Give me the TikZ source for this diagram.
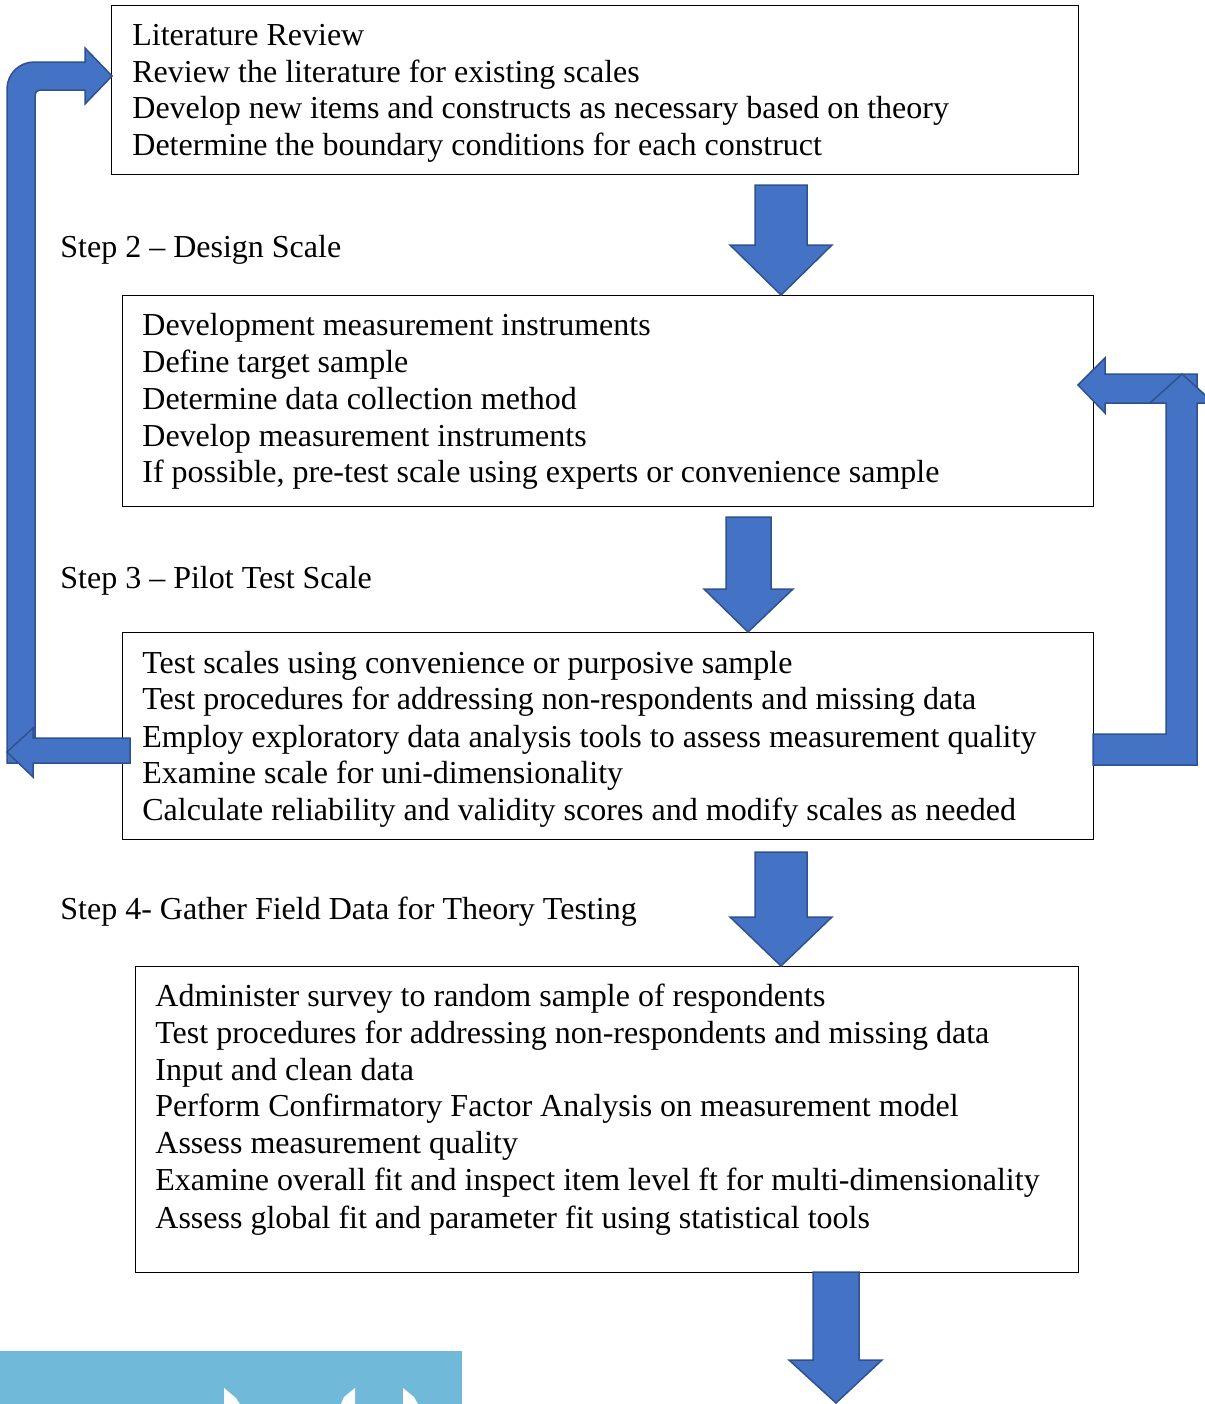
\documentclass[tikz,border=0pt]{standalone}
\usepackage{fontspec}
\setmainfont{Liberation Serif}
\definecolor{arrowblue}{HTML}{4472C4}
\definecolor{arrowedge}{HTML}{2F528F}
\definecolor{bannercyan}{HTML}{70B9D9}
\begin{document}
\begin{tikzpicture}[x=0.5pt,y=-0.5pt,
  box/.style={draw=black, line width=0.65pt, inner sep=0pt, anchor=north west},
  txt/.style={anchor=base west, inner sep=0pt, font=\fontsize{16}{18.4}\selectfont},
  blockarrow/.style={fill=arrowblue, draw=arrowedge, line width=0.75pt, line join=miter}]
\useasboundingbox (0,0) rectangle (1205,1404);

% stage boxes
\node[box, minimum width=483.5pt, minimum height=84.5pt] (b1) at (111,5) {};
\node[box, minimum width=485.5pt, minimum height=105.5pt] (b2) at (122,295) {};
\node[box, minimum width=485.5pt, minimum height=103.5pt] (b3) at (122,632) {};
\node[box, minimum width=471.5pt, minimum height=153pt] (b4) at (135,966) {};

% box texts
\foreach \y/\t [count=\i] in {45/Literature Review,
    82/Review the literature for existing scales,
    118/Develop new items and constructs as necessary based on theory,
    155/Determine the boundary conditions for each construct}
  \node[txt] (t1-\i) at (132,\y) {\t};

\foreach \y/\t [count=\i] in {335/Development measurement instruments,
    372/Define target sample,
    409/Determine data collection method,
    446/Develop measurement instruments,
    482/{If possible, pre-test scale using experts or convenience sample}}
  \node[txt] (t2-\i) at (142,\y) {\t};

\foreach \y/\t [count=\i] in {673/Test scales using convenience or purposive sample,
    709/Test procedures for addressing non-respondents and missing data,
    747/Employ exploratory data analysis tools to assess measurement quality,
    783/Examine scale for uni-dimensionality,
    820/Calculate reliability and validity scores and modify scales as needed}
  \node[txt] (t3-\i) at (142,\y) {\t};

\foreach \y/\t [count=\i] in {1006/Administer survey to random sample of respondents,
    1043/Test procedures for addressing non-respondents and missing data,
    1080/Input and clean data,
    1116/Perform Confirmatory Factor Analysis on measurement model,
    1153/Assess measurement quality,
    1190/Examine overall fit and inspect item level ft for multi-dimensionality,
    1228/Assess global fit and parameter fit using statistical tools}
  \node[txt] (t4-\i) at (155,\y) {\t};

% step labels
\node[txt] (s2) at (60,257) {Step 2 – Design Scale};
\node[txt] (s3) at (60,588) {Step 3 – Pilot Test Scale};
\node[txt] (s4) at (60,919) {Step 4- Gather Field Data for Theory Testing};

% downward block arrows
\draw[blockarrow] (755,185) -- (807,185) -- (807,245) -- (832,245) -- (781,295)
  -- (730,245) -- (755,245) -- cycle;
\draw[blockarrow] (726,517) -- (771,517) -- (771,589) -- (793,589) -- (748,632)
  -- (704,589) -- (726,589) -- cycle;
\draw[blockarrow] (755,852) -- (807,852) -- (807,917) -- (832,917) -- (781,966)
  -- (730,917) -- (755,917) -- cycle;
\draw[blockarrow] (813,1272) -- (859,1272) -- (859,1360) -- (882,1360) -- (836,1403)
  -- (789,1360) -- (813,1360) -- cycle;

% feedback loop on the left: up and back to the literature review
\draw[blockarrow] (7,763) -- (7,89) arc (180:270:27) -- (85,62)
  -- (85,48) -- (112,76) -- (85,104) -- (85,90)
  -- (40,90) arc (270:180:5) -- (35,763) -- cycle;
\draw[blockarrow] (130,738) -- (130,763) -- (33,763) -- (33,777) -- (7,752)
  -- (33,728) -- (33,738) -- cycle;

% feedback loop on the right: back to the scale design
\draw[blockarrow] (1197,374) -- (1197,403) -- (1105,403) -- (1105,413) -- (1078,385)
  -- (1105,358) -- (1105,374) -- cycle;
\draw[blockarrow] (1093,734) -- (1166,734) -- (1166,403) -- (1150,403) -- (1182,374)
  -- (1214,403) -- (1197,403) -- (1197,765) -- (1093,765) -- cycle;

% banner strip at the bottom left
\fill[bannercyan] (0,1351) rectangle (462,1404);
\fill[white] (224,1388) -- (236,1398) -- (240,1404) -- (224,1404) -- cycle;
\fill[white] (355,1388) -- (355,1404) -- (341,1404) -- (344,1397) -- cycle;
\fill[white] (403,1388) -- (414,1397) -- (418,1404) -- (403,1404) -- cycle;
\end{tikzpicture}
\end{document}
